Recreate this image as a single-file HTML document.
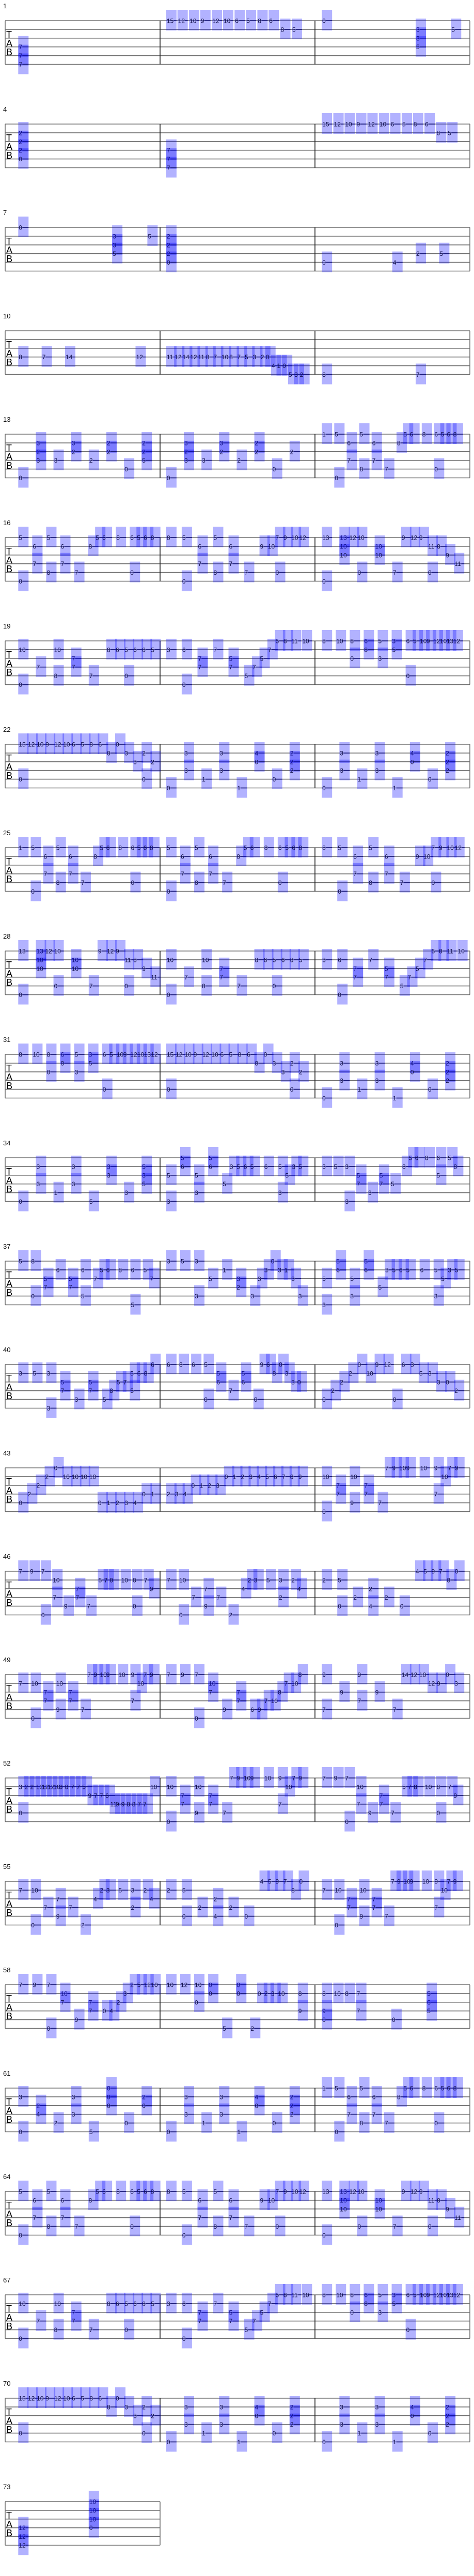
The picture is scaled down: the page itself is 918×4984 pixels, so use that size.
<!DOCTYPE html>
<html><head><meta charset="utf-8"><title>Guitar tablature</title>
<style>
html,body{margin:0;padding:0;background:#fff;}
svg{display:block;}
text{font-family:"Liberation Sans Narrow","Liberation Sans",sans-serif;}
</style></head>
<body>
<svg id="tab" xmlns="http://www.w3.org/2000/svg" width="918" height="4984" viewBox="0 0 918 4984"></svg>
<script>
// ---- data: measure numbers at the start of each system ----
const systemMeasures = [1,4,7,10,13,16,19,22,25,28,31,34,37,40,43,46,49,52,55,58,61,64,67,70,73];
// measures per system
const systemMeasureCounts = [3,3,3,3,3,3,3,3,3,3,3,3,3,3,3,3,3,3,3,3,3,3,3,3,1];
// notes: "onset string fret [string fret ...]" ; onset in timeline ticks (0..1530)
const S6 = "60 1 5 6 0;106 2 6 4 7;152 1 5 5 8;198 2 6 4 7;244 5 7;290 2 8;313 1 5;335 1 6;381 1 8;427 1 6 5 0;449 1 5;471 1 6;494 1 8;547 1 8;598 1 5 6 0;650 2 6 4 7;701 1 5 5 8;752 2 6 4 7;803 5 7;854 2 9;880 2 10;905 1 7 5 0;931 1 9;957 1 10;983 1 12;1059 1 13 6 0;1117 1 13 2 10 3 10;1148 1 12;1175 1 10 5 0;1233 2 10 3 10;1291 5 7;1320 1 9;1349 1 12;1378 1 9;1407 2 11 5 0;1436 2 8;1465 3 9;1494 4 11";
const S7 = "60 2 10 6 0;118 4 7;176 2 10 5 8;234 3 7 4 7;292 5 7;350 2 8;379 2 6;408 2 5 5 0;437 2 6;466 2 8;495 2 5;547 2 3;598 2 6 6 0;650 3 7 4 7;701 2 7;752 3 5 4 7;803 5 5;829 4 7;854 3 5;880 2 7;905 1 5;931 1 8;957 1 11;993 1 10;1059 1 8;1105 1 10;1151 1 8 3 0;1197 1 6 2 8;1243 1 5 3 3;1289 1 3 2 5;1335 1 6 5 0;1358 1 5;1380 1 10;1402 1 9;1424 1 12;1446 1 10;1468 1 13;1490 1 12";
const S8 = "60 1 15 5 0;90 1 12;119 1 10;148 1 9;177 1 12;206 1 10;235 1 6;264 1 5;293 1 8;322 1 6;350 2 8;379 1 0;408 2 3;437 3 3;466 2 2 5 0;495 3 2;547 6 0;605 2 3 4 3;663 5 1;721 2 3 4 3;779 6 1;837 2 4 3 0;895 5 0;953 2 2 3 2 4 2;1059 6 0;1117 2 3 4 3;1175 5 1;1233 2 3 4 3;1291 6 1;1349 2 4 3 0;1407 5 0;1465 2 2 3 2 4 2";
const systemNotes = [
"60 4 7 5 7 6 7;547 1 15;584 1 12;622 1 10;659 1 9;697 1 12;734 1 10;772 1 6;809 1 5;847 1 8;884 1 6;922 2 8;960 2 5;1059 1 0;1368 2 3 3 3 4 5;1484 2 5",
"60 2 2 3 2 4 2 5 0;547 4 7 5 7 6 7;1059 1 15;1097 1 12;1134 1 10;1172 1 9;1209 1 12;1247 1 10;1284 1 6;1322 1 5;1359 1 8;1397 1 6;1435 2 8;1472 2 5",
"60 1 0;369 2 3 3 3 4 5;485 2 5;547 2 2 3 2 4 2 5 0;1059 5 0;1291 5 4;1368 4 2;1445 4 5",
"60 4 8;137 4 7;214 4 14;446 4 12;547 4 11;573 4 12;599 4 14;624 4 12;650 4 11;676 4 8;701 4 7;727 4 10;753 4 8;779 4 7;804 4 5;830 4 3;856 4 2;873 4 0;892 5 4;910 5 1;928 5 0;948 6 5;967 6 3;985 6 2;1059 6 8;1368 6 7",
"60 6 0;118 2 3 3 2 4 3;176 4 3;234 2 3 3 2;292 4 2;350 2 2 3 2;408 5 0;466 2 2 3 2 4 5;547 6 0;605 2 3 3 2 4 3;663 4 3;721 2 3 3 2;779 4 2;837 2 2 3 2;895 5 0;953 3 2;1059 1 1;1100 1 5 6 0;1141 2 6 4 7;1182 1 5 5 8;1223 2 6 4 7;1264 5 7;1305 2 8;1326 1 5;1347 1 6;1388 1 8;1428 1 6 5 0;1449 1 5;1469 1 6;1490 1 8",
S6,
S7,
S8,
"60 1 1;101 1 5 6 0;142 2 6 4 7;183 1 5 5 8;224 2 6 4 7;265 5 7;306 2 8;327 1 5;348 1 6;388 1 8;429 1 6 5 0;450 1 5;470 1 6;491 1 8;547 1 5 6 0;593 2 6 4 7;639 1 5 5 8;685 2 6 4 7;731 5 7;777 2 8;800 1 5;822 1 6;868 1 8;914 1 6 5 0;937 1 5;959 1 6;981 1 8;1059 1 8;1110 1 5 6 0;1161 2 6 4 7;1212 1 5 5 8;1264 2 6 4 7;1315 5 7;1366 2 9;1392 2 10;1418 1 7 5 0;1443 1 9;1469 1 10;1495 1 12",
"60 1 13 6 0;118 1 13 2 10 3 10;147 1 12;176 1 10 5 0;234 2 10 3 10;292 5 7;321 1 9;350 1 12;379 1 9;408 2 11 5 0;437 2 8;466 3 9;495 4 11;547 2 10 6 0;605 4 7;663 2 10 5 8;721 3 7 4 7;779 5 7;837 2 8;866 2 6;895 2 5 5 0;924 2 6;953 2 8;982 2 5;1059 2 3;1110 2 6 6 0;1161 3 7 4 7;1212 2 7;1264 3 5 4 7;1315 5 5;1340 4 7;1366 3 5;1392 2 7;1418 1 5;1443 1 8;1469 1 11;1505 1 10",
"60 1 8;106 1 10;152 1 8 3 0;198 1 6 2 8;244 1 5 3 3;290 1 3 2 5;336 1 6 5 0;359 1 5;382 1 10;404 1 9;427 1 12;450 1 10;472 1 13;495 1 12;547 1 15 5 0;576 1 12;606 1 10;635 1 9;664 1 12;694 1 10;723 1 6;752 1 5;781 1 8;811 1 6;837 2 8;866 1 0;895 2 3;924 3 3;953 2 2 5 0;982 3 2;1059 6 0;1117 2 3 4 3;1175 5 1;1233 2 3 4 3;1291 6 1;1349 2 4 3 0;1407 5 0;1465 2 2 3 2 4 2",
"60 6 0;118 2 3 4 3;176 5 1;234 2 3 4 3;292 6 5;350 2 3 3 3;408 5 3;466 2 5 3 3 4 5;547 3 5 6 3;593 1 5 2 6;639 3 5 5 3;685 1 5 2 6;731 4 5;754 2 3;777 2 5;800 2 6;822 2 5;868 2 6;914 2 5 5 3;937 3 5;959 2 3;981 2 5;1059 2 3;1097 2 5;1134 2 3 6 3;1172 3 5 4 7;1210 5 3;1247 3 5 4 7;1285 4 5;1322 2 8;1343 1 5;1364 1 6;1397 1 8;1435 1 6 3 5;1472 1 5;1491 2 8",
"60 1 5;101 1 8 5 0;142 3 5 4 7;183 2 6;224 3 5 4 7;265 2 6 5 5;306 3 7;327 2 5;348 2 6;388 2 8;429 2 6 6 5;470 2 5;491 3 7;547 1 3;593 1 5;639 1 3 5 3;685 3 5;731 2 1;777 3 3 4 2;823 5 3;846 3 3;868 2 3;890 1 0;913 2 3;934 2 1;957 3 3;980 5 3;1059 3 5 6 3;1105 1 5 2 6;1151 3 5 5 3;1197 1 5 2 6;1243 4 5;1266 2 3;1289 2 5;1312 2 6;1335 2 5;1381 2 6;1427 2 5 5 3;1450 3 5;1472 2 3;1495 2 5",
"60 2 3;106 2 5;152 2 3 6 3;198 3 5 4 7;244 5 3;290 3 5 4 7;336 5 5;359 4 8;382 3 5;404 3 7;427 2 5 4 5;450 2 6;472 2 8;495 1 6;547 1 6;588 1 8;629 1 6;670 1 5 5 0;711 2 5 3 6;752 4 7;793 2 5 3 6;834 5 0;854 1 9;875 1 6;895 2 8;916 1 0;936 2 3;957 3 3;977 3 0;1059 5 0;1088 4 2;1117 3 2;1146 2 2;1175 1 0;1204 2 10;1233 1 9;1262 1 12;1291 5 0;1320 1 6;1349 1 3;1378 2 5;1407 2 3;1436 3 3;1465 3 0;1494 4 2",
"60 5 0;89 4 2;118 3 2;147 2 2;176 1 0;205 2 10;234 2 10;263 2 10;292 2 10;321 5 0;350 5 1;379 5 2;408 5 3;437 5 4;466 4 0;495 4 1;547 4 2;574 4 3;601 4 4;628 3 0;655 3 1;682 3 2;709 3 3;737 2 0;764 2 1;791 2 2;818 2 3;845 2 4;872 2 5;899 2 6;926 2 7;953 2 8;980 2 9;1059 2 10 6 0;1105 3 7 4 7;1151 2 10 5 9;1197 3 7 4 7;1243 5 7;1266 1 7;1289 1 9;1312 1 10;1335 1 9;1381 1 10;1427 1 9 4 7;1450 2 10;1472 1 7;1495 1 9",
"60 1 7;97 1 9;134 1 7 6 0;172 2 10 4 7;209 5 9;247 3 7 4 7;284 5 7;322 2 5;341 2 7;359 2 8;397 2 10;435 2 8 5 0;472 2 7;491 3 9;547 2 7;588 2 10 6 0;629 4 7;670 3 7 5 9;711 4 7;752 6 2;793 3 4;813 2 2;834 2 3;875 2 5;916 2 3 4 2;957 2 2;977 3 4;1059 2 2;1110 2 5 5 0;1161 4 2;1212 3 2 5 4;1264 4 2;1315 5 0;1366 1 4;1392 1 5;1418 1 9;1443 1 7;1469 2 8;1495 1 0",
"60 2 7;101 2 10 6 0;142 3 7 4 7;183 2 10 5 9;224 3 7 4 7;265 5 7;286 1 7;306 1 9;327 1 10;348 1 9;388 1 10;429 1 9 4 7;450 2 10;470 1 7;491 1 9;547 1 7;593 1 9;639 1 7 6 0;685 2 10 3 7;731 5 9;777 3 7 4 7;823 5 6;846 5 9;868 4 7;890 4 10;913 3 8;934 2 7;957 2 10;980 1 8;1059 1 9 5 7;1117 3 9;1175 1 9 4 7;1233 3 9;1291 5 7;1320 1 14;1349 1 12;1378 1 10;1407 2 12;1436 2 9;1465 1 0;1494 2 3",
"60 2 3 5 0;79 2 2;98 2 2;117 2 12;136 2 12;155 2 12;174 2 10;193 2 8;212 2 8;231 2 7;250 2 7;269 2 5;288 3 9;307 3 7;326 3 7;345 3 6;361 4 11;379 4 9;397 4 9;415 4 8;433 4 8;451 4 7;469 4 7;493 2 10;547 2 10 6 0;593 3 7 4 7;639 2 10 5 9;685 3 7 4 7;731 5 7;754 1 7;777 1 9;800 1 10;822 1 9;868 1 10;914 1 9 4 7;937 2 10;959 1 7;981 1 9;1059 1 7;1097 1 9;1134 1 7 6 0;1172 2 10 4 7;1210 5 9;1247 3 7 4 7;1285 5 7;1322 2 5;1341 2 7;1360 2 8;1397 2 10;1435 2 8 5 0;1472 2 7;1491 3 9",
"60 2 7;101 2 10 6 0;142 4 7;183 3 7 5 9;224 4 7;265 6 2;306 3 4;327 2 2;348 2 3;388 2 5;429 2 3 4 2;470 2 2;491 3 4;547 2 2;598 2 5 5 0;650 4 2;701 3 2 5 4;752 4 2;803 5 0;854 1 4;880 1 5;905 1 9;931 1 7;957 2 8;983 1 0;1059 2 7;1100 2 10 6 0;1141 3 7 4 7;1182 2 10 5 9;1223 3 7 4 7;1264 5 7;1285 1 7;1305 1 9;1326 1 10;1347 1 9;1388 1 10;1428 1 9 4 7;1449 2 10;1469 1 7;1490 1 9",
"60 1 7;106 1 9;152 1 7 6 0;198 2 10 3 7;244 5 9;290 3 7 4 7;336 4 0;359 4 4;382 3 2;404 2 3;427 1 2;450 1 5;472 1 12;495 1 10;547 1 10;593 1 12;639 1 10 3 0;685 1 0 2 0;731 6 5;777 1 0 2 0;823 6 2;846 2 0;868 2 2;890 2 3;913 2 10;980 2 8 4 9;1059 2 8 4 9 5 0;1097 2 10;1134 2 8;1172 2 7 4 7;1288 5 0;1404 2 5 3 6 4 5",
"60 2 3 6 0;118 3 2 4 4;176 5 2;234 2 3 4 3;292 6 5;350 1 0 2 0 3 0;408 5 0;466 2 2 3 0;547 6 0;605 2 3 4 3;663 5 1;721 2 3 4 3;779 6 1;837 2 4 3 0;895 5 0;953 2 2 3 2 4 2;1059 1 1;1100 1 5 6 0;1141 2 6 4 7;1182 1 5 5 8;1223 2 6 4 7;1264 5 7;1305 2 8;1326 1 5;1347 1 6;1388 1 8;1428 1 6 5 0;1449 1 5;1469 1 6;1490 1 8",
S6,
S7,
S8,
"60 4 12 5 12 6 12;292 1 10 2 10 3 10 4 0"
];

// ---- layout / axis functions ----
const NS = "http://www.w3.org/2000/svg";
const svg = document.getElementById('tab');
const SYS_H = 200, STAFF_TOP = 40, STR_GAP = 16.9, LEFT = 10, MEAS_W = 300;
function sysY(k){ return k*SYS_H; }
function stringY(k, s){ return sysY(k) + STAFF_TOP + (s-1)*STR_GAP; }
function xScale(t){ return t * 918/1560; }
function mk(tag, attrs, parent){
  const e = document.createElementNS(NS, tag);
  for (const a in attrs) e.setAttribute(a, attrs[a]);
  (parent||svg).appendChild(e);
  return e;
}

systemMeasures.forEach((mNum, k) => {
  const g = mk('g', {});
  
  
  const right = LEFT + MEAS_W*systemMeasureCounts[k];
  const lbl = mk('text', {x:6, y:sysY(k)+16, 'font-size':13, fill:'#111'}, g);
  lbl.textContent = mNum;
  
  
  for (let s=1; s<=6; s++){
    const ln = mk('line', {x1:LEFT, x2:right, y1:stringY(k,s), y2:stringY(k,s), stroke:'#707070', 'stroke-width':1.6}, g);
    
    
  }
  const l0 = mk('line', {x1:LEFT, x2:LEFT, y1:stringY(k,1), y2:stringY(k,6), stroke:'#707070', 'stroke-width':1.6}, g);
  
  
  for (let m=1; m<=systemMeasureCounts[k]; m++){
    const bx = LEFT + MEAS_W*m;
    const last = m===systemMeasureCounts[k];
    const bl = mk('line', {x1:bx, x2:bx, y1:stringY(k,1), y2:stringY(k,6), stroke: last ? '#707070' : '#222', 'stroke-width':1.6}, g);
    
    
  }
  ['T','A','B'].forEach((c,i) => {
    const t = mk('text', {x:12, y:sysY(k)+73+i*17, 'font-size':18, fill:'#000'}, g);
    t.textContent = c;
    
    
  });
  const events = systemNotes[k].split(';');
  events.forEach(ev => {
    const p = ev.trim().split(/\s+/).map(Number);
    const x = xScale(p[0]);
    for (let i=1; i+1<p.length; i+=2){
      const s = p[i], f = p[i+1];
      const y = stringY(k, s);
      const r = mk('rect', {x:x, y:y-21, width:20, height:40, fill:'rgba(0,0,255,0.3)'}, g);
      
      
      const fs = String(f);
      const tw = fs.length * 6.2;
      const bg = mk('rect', {x:x+0.5, y:y-2, width:tw+1, height:4, fill:'rgba(0,0,0,0)'}, g);
      const d = mk('line', {x1:x+2+tw, x2:x+20, y1:y, y2:y, stroke:'#1a1a7a', 'stroke-width':1.6}, g);
      
      
      const t = mk('text', {x:x+1, y:y+4.5, 'font-size':12, fill:'#10104a'}, g);
      t.textContent = fs;
      
      
    }
  });
});
</script>
</body></html>
